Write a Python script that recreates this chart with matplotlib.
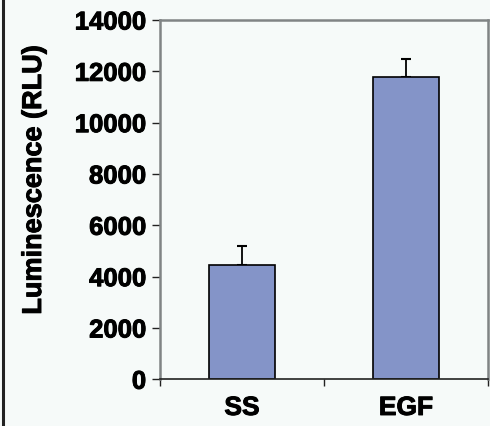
import matplotlib
matplotlib.use("Agg")
import matplotlib.pyplot as plt
from matplotlib.lines import Line2D
import matplotlib.patheffects as pe

categories = ["SS", "EGF"]
values = [4450, 11790]
errors = [750, 700]
yticks = [0, 2000, 4000, 6000, 8000, 10000, 12000, 14000]

W, H = 490, 426
bg = "#F6FAF9"
plt.rcParams["font.family"] = ["Liberation Sans", "DejaVu Sans"]
plt.rcParams["font.weight"] = "bold"
thick = [pe.withStroke(linewidth=0.7, foreground="black")]

fig = plt.figure(figsize=(W / 100, H / 100), dpi=100, facecolor=bg)
ax = fig.add_axes([160 / W, 1 - 379.3 / H, (488 - 160) / W, (379.3 - 20) / H])
ax.set_facecolor(bg)

x = list(range(len(categories)))
ax.bar(x, values, width=0.40, color="#8494C8", edgecolor="black", linewidth=1.2, zorder=2)
ax.errorbar(x, values, yerr=[[0] * len(errors), errors], fmt="none", ecolor="black",
            elinewidth=1.3, capsize=3.6, capthick=1.5, zorder=1)

ax.set_xlim(-0.5, len(categories) - 0.5)
ax.set_ylim(0, 14000)
ax.set_yticks(yticks)
ax.set_yticklabels([str(v) for v in yticks], fontsize=18.5, fontweight="bold")
ax.set_xticks([i - 0.5 for i in range(len(categories) + 1)])
ax.set_xticklabels([])
ax.set_xticks(x, minor=True)
ax.set_xticklabels(categories, minor=True, fontsize=19, fontweight="bold")
ax.tick_params(axis="x", which="minor", length=0, pad=12)
ax.tick_params(axis="x", which="major", length=5, width=1, color="#222222", direction="out")
ax.tick_params(axis="y", length=6, width=1, color="#222222", direction="out", pad=4)
for t in ax.get_yticklabels() + ax.get_xticklabels(minor=True):
    t.set_path_effects(thick)

for s in ["left", "top", "right"]:
    ax.spines[s].set_color("#808485")
    ax.spines[s].set_linewidth(1.8)
ax.spines["bottom"].set_color("#222222")
ax.spines["bottom"].set_linewidth(1.2)

fig.text(34 / W, 1 - 180 / H, "Luminescence (RLU)", rotation=90, ha="center", va="center",
         fontsize=19.5, fontweight="bold", path_effects=thick)
fig.add_artist(Line2D([3 / W, 3 / W], [0, 1], transform=fig.transFigure, color="#222222", linewidth=2.2))

fig.savefig("out.png", dpi=100, facecolor=bg)
